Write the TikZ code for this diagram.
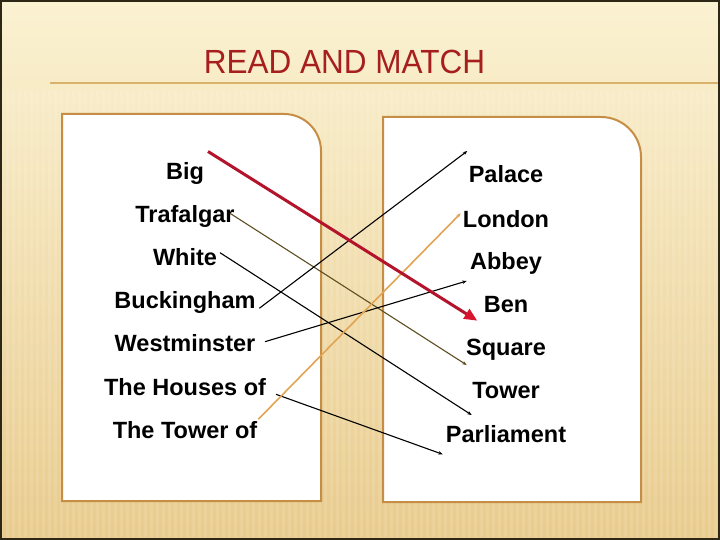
\documentclass[tikz,border=0pt]{standalone}
\usepackage{fontspec}
\setmainfont{Liberation Sans}
\newfontfamily\titlefont[FakeStretch=0.94]{Liberation Sans}
\usetikzlibrary{arrows.meta}
\definecolor{bgtop}{HTML}{FBF2D2}
\definecolor{bgmid}{HTML}{F6E4AE}
\definecolor{bgbot}{HTML}{E9CB8B}
\definecolor{boxline}{HTML}{C68E45}
\definecolor{titlered}{HTML}{A61E1E}
\definecolor{arrred}{HTML}{B3142C}
\definecolor{tipred}{HTML}{D8142E}
\definecolor{olivel}{HTML}{5E4E22}
\definecolor{tanl}{HTML}{E2A452}
\definecolor{rulel}{HTML}{D9B06C}
\definecolor{edgel}{HTML}{2F2716}
\begin{document}
\begin{tikzpicture}[x=1bp,y=-1bp,
  word/.style={font=\fontsize{23.5bp}{28bp}\selectfont\bfseries, anchor=base, inner sep=0pt},
  thinarrow/.style={line width=1.1bp, -{Stealth[length=4.5bp,width=3.5bp]}},
  redarrow/.style={arrred, line width=3bp, -{Triangle[length=13bp,width=11bp,color=tipred]}},
  whitebox/.style={draw=boxline, line width=2bp, fill=white}]
\useasboundingbox (0,0) rectangle (720,540);
% background
\fill[top color=bgtop, middle color=bgmid, bottom color=bgbot] (0,0) rectangle (720,540);
\foreach \i in {0,...,120}
  \fill[white, opacity=0.12] (\i*6,90) rectangle (\i*6+2.5,540);
\draw[rulel, line width=1.5bp] (50,83) -- (720,83);
\draw[edgel, line width=2bp] (1,1) rectangle (719,539);
% title
\node[font=\titlefont\fontsize{33.5bp}{40bp}\selectfont, text=titlered, anchor=base, inner sep=0pt] (title) at (344.5,74) {READ AND MATCH};
% boxes
\draw[whitebox] (62,501) -- (62,114) -- (284,114) arc[start angle=-90, end angle=0, radius=37] -- (321,501) -- cycle;
\draw[whitebox] (383,502) -- (383,117) -- (601,117) arc[start angle=-90, end angle=0, radius=40] -- (641,502) -- cycle;
% left words
\node[word] (big) at (185,180) {Big};
\node[word] (tra) at (185,223) {Trafalgar};
\node[word] (whi) at (185,265.7) {White};
\node[word] (buc) at (185,308.7) {Buckingham};
\node[word] (wes) at (185,351.7) {Westminster};
\node[word] (hou) at (185,395.7) {The Houses of};
\node[word] (tow) at (185,438.3) {The Tower of};
% right words
\node[word] (pal) at (506,182.7) {Palace};
\node[word] (lon) at (506,227.3) {London};
\node[word] (abb) at (506,270) {Abbey};
\node[word] (ben) at (506,312.7) {Ben};
\node[word] (squ) at (506,355) {Square};
\node[word] (twr) at (506,398.3) {Tower};
\node[word] (par) at (506,442.3) {Parliament};
% connector end points
\coordinate (a1) at (208,151.5);   \coordinate (b1) at (477.3,320.7);
\coordinate (a2) at (230,213.3);   \coordinate (b2) at (466.7,365);
\coordinate (a3) at (220,252.7);   \coordinate (b3) at (471.7,415);
\coordinate (a4) at (259.3,308.3); \coordinate (b4) at (467.3,151);
\coordinate (a5) at (265,341.7);   \coordinate (b5) at (466.7,281);
\coordinate (a6) at (276,394.3);   \coordinate (b6) at (442.7,454.3);
\coordinate (a7) at (258.3,419.3); \coordinate (b7) at (460.7,213.3);
% connectors
\draw[thinarrow, olivel] (a2) -- (b2);
\draw[thinarrow, black] (a3) -- (b3);
\draw[thinarrow, black] (a4) -- (b4);
\draw[thinarrow, black] (a5) -- (b5);
\draw[thinarrow, black] (a6) -- (b6);
\draw[thinarrow, tanl, line width=1.6bp] (a7) -- (b7);
\draw[redarrow] (a1) -- (b1);
\end{tikzpicture}
\end{document}
